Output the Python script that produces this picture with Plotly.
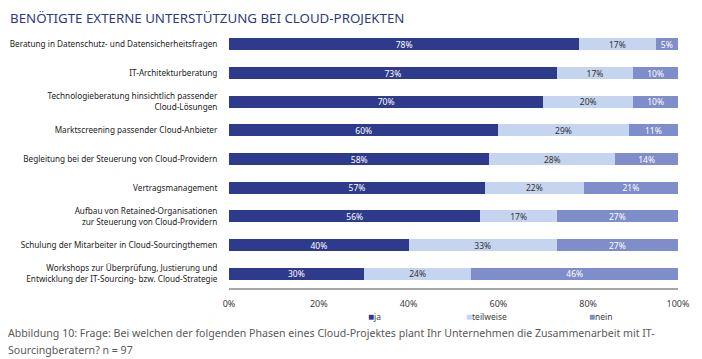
import plotly.graph_objects as go

categories = [
    "Beratung in Datenschutz- und Datensicherheitsfragen",
    "IT-Architekturberatung",
    "Technologieberatung hinsichtlich passender<br>Cloud-Lösungen",
    "Marktscreening passender Cloud-Anbieter",
    "Begleitung bei der Steuerung von Cloud-Providern",
    "Vertragsmanagement",
    "Aufbau von Retained-Organisationen<br>zur Steuerung von Cloud-Providern",
    "Schulung der Mitarbeiter in Cloud-Sourcingthemen",
    "Workshops zur Überprüfung, Justierung und<br>Entwicklung der IT-Sourcing- bzw. Cloud-Strategie",
]
ja = [78, 73, 70, 60, 58, 57, 56, 40, 30]
teilweise = [17, 17, 20, 29, 28, 22, 17, 33, 24]
nein = [5, 10, 10, 11, 14, 21, 27, 27, 46]
series_names = ["ja", "teilweise", "nein"]
tick_vals = [0, 20, 40, 60, 80, 100]
tick_text = ["0%", "20%", "40%", "60%", "80%", "100%"]

colors = ["#2E3A8C", "#C5D4EF", "#7F8DCA"]
text_colors = ["white", "#333333", "white"]
FONT = "Noto Sans"

# page body adds an 8px offset; work in figure coordinates = page - 8
OFF = 8
W, H = 702 - OFF, 359 - OFF
PL, PR, PT, PB = 229 - OFF, 678 - OFF, 30 - OFF, 288 - OFF
PW, PH = PR - PL, PB - PT

fig = go.Figure()
for name, vals, col, tcol in zip(series_names, [ja, teilweise, nein], colors, text_colors):
    fig.add_trace(go.Bar(
        y=categories, x=vals, name=name, orientation="h",
        marker=dict(color=col, line=dict(width=0)),
        text=[f"{v}%" for v in vals], textposition="inside",
        insidetextanchor="middle",
        textfont=dict(color=tcol, size=8.5, family=FONT),
        width=0.42, showlegend=False,
    ))

fig.update_layout(
    barmode="stack",
    width=W, height=H,
    margin=dict(l=PL, r=W - PR, t=PT, b=H - PB, autoexpand=False),
    paper_bgcolor="white", plot_bgcolor="white",
    font=dict(family=FONT, size=8.5, color="#222222"),
    uniformtext=dict(minsize=6, mode="show"),
)
fig.update_xaxes(
    range=[0, 100], tickvals=tick_vals, ticktext=tick_text,
    showgrid=False, zeroline=False, automargin=False,
    showline=True, linecolor="#A6A6A6", linewidth=1.5,
    ticks="outside", ticklen=6, tickcolor="rgba(0,0,0,0)",
    tickfont=dict(size=9, color="#404040", family=FONT),
)
fig.update_yaxes(
    autorange="reversed", showgrid=False, showline=False, automargin=False,
    ticks="outside", ticklen=9, tickcolor="rgba(0,0,0,0)",
    tickfont=dict(size=8.2, color="#222222", family=FONT),
)

def px(x):
    return (x - OFF - PL) / PW

def py(y):
    return (PB - (y - OFF)) / PH

# top rule and title
fig.add_shape(type="line", xref="paper", yref="paper",
              x0=px(7), x1=px(678), y0=py(7), y1=py(7),
              line=dict(color="#2E3566", width=2.2))
fig.add_annotation(text="BENÖTIGTE EXTERNE UNTERSTÜTZUNG BEI CLOUD-PROJEKTEN",
                   xref="paper", yref="paper", x=px(8), y=py(18),
                   xanchor="left", yanchor="middle", showarrow=False,
                   font=dict(size=13.3, color="#2E3A80", family=FONT))

# legend
legend_x = [366, 464, 587]
for name, col, lx in zip(series_names, colors, legend_x):
    fig.add_annotation(
        text=f"<span style='color:{col};font-size:10px'>■</span>{name}",
        xref="paper", yref="paper", x=px(lx), y=py(316),
        xanchor="left", yanchor="middle", showarrow=False,
        font=dict(size=8.5, color="#404040", family=FONT))

# caption
caption_lines = [
    "Abbildung 10: Frage: Bei welchen der folgenden Phasen eines Cloud-Projektes plant Ihr Unternehmen die Zusammenarbeit mit IT-",
    "Sourcingberatern? n = 97",
]
for line, ly in zip(caption_lines, [333, 350]):
    fig.add_annotation(
        text=line, xref="paper", yref="paper", x=px(6), y=py(ly),
        xanchor="left", yanchor="middle", align="left", showarrow=False,
        font=dict(size=10.6, color="#595959", family=FONT))

fig.write_html("out.html")
